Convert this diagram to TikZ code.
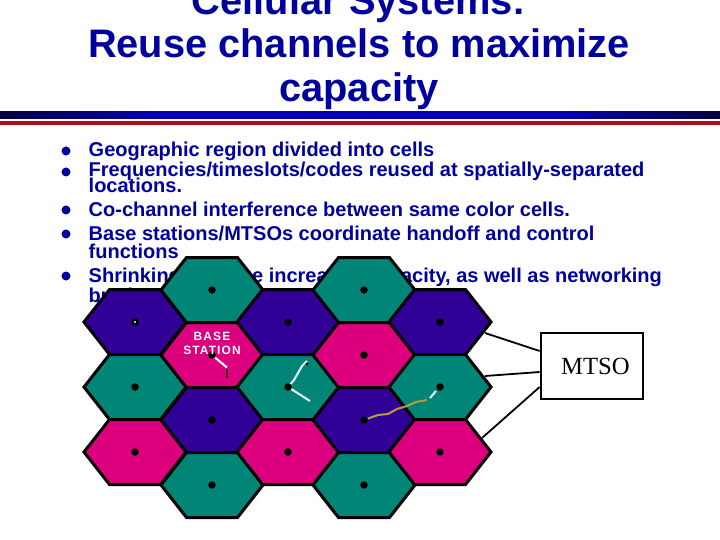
\documentclass[tikz,border=0pt]{standalone}
\usepackage{fontspec}
\setmainfont{Liberation Sans}
\newfontfamily\timesf{Liberation Serif}
\definecolor{txtblue}{HTML}{00009C}
\definecolor{tealc}{HTML}{008577}
\definecolor{purpc}{HTML}{310096}
\definecolor{magc}{HTML}{DC007F}
\definecolor{ruleL}{HTML}{000040}
\definecolor{ruleM}{HTML}{0000B0}
\definecolor{redr}{HTML}{A81018}
\definecolor{wirew}{HTML}{E8FFFF}
\definecolor{wireb}{HTML}{B89A40}
\pgfdeclarehorizontalshading{rulegrad}{100bp}{color(0bp)=(ruleL); color(25bp)=(ruleL); color(36bp)=(ruleM); color(64bp)=(ruleM); color(75bp)=(ruleL); color(100bp)=(ruleL)}
\tikzset{
  titletext/.style={font=\fontsize{39.8}{40}\selectfont\bfseries, text=txtblue, inner sep=0pt, anchor=base},
  bodytext/.style={font=\fontsize{20}{20}\selectfont\bfseries, text=txtblue, inner sep=0pt, anchor=base west},
  dotbullet/.style={circle, fill=txtblue, inner sep=0pt, minimum size=9pt},
  hexcell/.style={draw=black, line width=3pt, line join=miter},
  sitedot/.style={circle, fill=black, inner sep=0pt, minimum size=7.5pt},
  btslabel/.style={font=\fontsize{12}{12}\selectfont\bfseries\addfontfeature{LetterSpace=9}, text=white, inner sep=0pt, anchor=base},
  mtsobox/.style={draw=black, line width=2.7pt, fill=white, minimum width=102pt, minimum height=66pt, inner sep=0pt, font=\timesf\fontsize{24.7}{25}\selectfont},
  trunk/.style={draw=black, line width=1.8pt},
  wirewhite/.style={draw=wirew, line width=2pt},
  wirebrown/.style={draw=wireb, line width=2pt, line join=round}
}
\newcommand{\hexat}[3]{%
  \fill[#3] (#1-51,#2) -- (#1-25.5,#2-32.5) -- (#1+25.5,#2-32.5) -- (#1+51,#2) -- (#1+25.5,#2+32.5) -- (#1-25.5,#2+32.5) -- cycle;
  \draw[hexcell] (#1-51,#2) -- (#1-25.5,#2-32.5) -- (#1+25.5,#2-32.5) -- (#1+51,#2) -- (#1+25.5,#2+32.5) -- (#1-25.5,#2+32.5) -- cycle;
}
\begin{document}
\begin{tikzpicture}[x=1pt,y=-1pt]
\useasboundingbox (0,0) rectangle (720,540);
\clip (0,0) rectangle (720,540);
% title
\node[titletext] (t1) at (359,15) {Cellular Systems:};
\node[titletext] (t2) at (359,58) {Reuse channels to maximize};
\node[titletext] (t3) at (359,102) {capacity};
% rules
\shade[shading=rulegrad] (0,112) rectangle (720,119);
\fill[redr] (0,121) rectangle (720,125);
% bullets
\foreach \n/\y in {a/151,b/172,c/210,d/234,e/276}{\node[dotbullet] (bul\n) at (66,\y) {};}
\node[bodytext] (l1) at (88.5,157) {Geographic region divided into cells};
\node[bodytext] (l2) at (88.5,177) {Frequencies/timeslots/codes reused at spatially-separated};
\node[bodytext] (l3) at (88.5,192.5) {locations.};
\node[bodytext] (l4) at (88.5,216) {Co-channel interference between same color cells.};
\node[bodytext] (l5) at (88.5,240.5) {Base stations/MTSOs coordinate handoff and control};
\node[bodytext] (l6) at (88.5,258.5) {functions};
\node[bodytext] (l7) at (88.5,282.5) {Shrinking cell size increases capacity, as well as networking};
\node[bodytext] (l8) at (88.5,302) {burden};
% hexes
\foreach \x/\y/\c in {135/322/purpc,135/387/tealc,135/452/magc,
  212/290/tealc,212/355/magc,212/420/purpc,212/485/tealc,
  288/322/purpc,288/387/tealc,288/452/magc,
  364/290/tealc,364/355/magc,364/420/purpc,364/485/tealc,
  440/322/purpc,440/387/tealc,440/452/magc}{\hexat{\x}{\y}{\c}}
% sites
\foreach \x/\y in {135/322,135/387,135/452,212/290,212/355,212/420,212/485,288/322,288/387,288/452,364/290,364/355,364/420,364/485,440/322,440/387,440/452}{
  \node[sitedot] (s\x-\y) at (\x,\y) {};}
\fill[white] (135,322) circle (1.2pt);
% base station label
\node[btslabel] (bs1) at (212,340) {BASE};
\node[btslabel] (bs2) at (212,354) {STATION};
% handset wires
\coordinate (h1a) at (227,367.5);
\coordinate (h1b) at (227,369);
\coordinate (h1c) at (227,378);
\draw[wirewhite] (s212-355) -- (h1a);
\draw[draw=black!75!red, line width=2.4pt] (h1b) -- (h1c);
\coordinate (h2a) at (310,401);
\coordinate (h2b) at (302,366);
\coordinate (h2c) at (307,361);
\draw[wirewhite] (s288-387) -- (h2a);
\draw[wirewhite] (s288-387) -- (294,380) -- (h2b) -- (h2c);
\fill[black] (307,364) circle (1.6pt);
\coordinate (h3a) at (427,400);
\coordinate (h3b) at (430,398);
\draw[wirebrown] (s364-420) -- (378,415) -- (388,414) -- (397,409) -- (407,406) -- (416,402) -- (h3a);
\draw[wirewhite] (h3b) -- (436,391);
% MTSO
\node[mtsobox] (mtso) at (592,366) {\raisebox{-1pt}{\hspace{7pt}MTSO}};
\coordinate (c1) at (485,333);
\coordinate (c2) at (485,376);
\coordinate (c3) at (482,438);
\draw[trunk] (mtso.west |- 0,351) -- (c1);
\draw[trunk] (mtso.west |- 0,372) -- (c2);
\draw[trunk] (mtso.west |- 0,387) -- (c3);
\end{tikzpicture}
\end{document}
